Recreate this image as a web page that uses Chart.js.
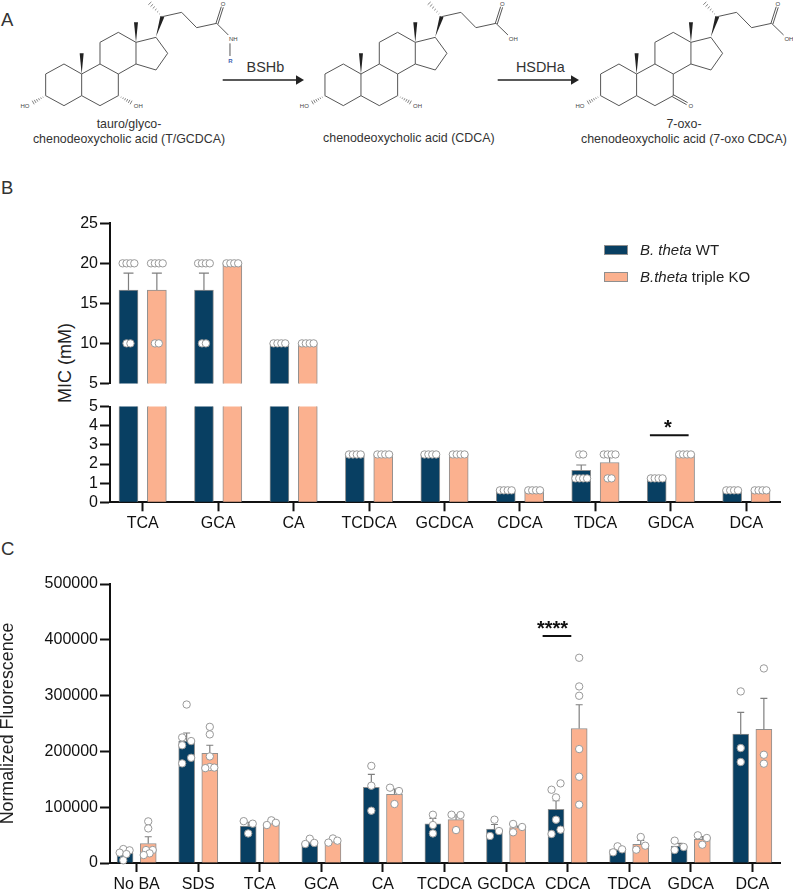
<!DOCTYPE html>
<html>
<head>
<meta charset="utf-8">
<script src="https://cdn.jsdelivr.net/npm/chart.js@4"></script>
<style>
  html, body { margin: 0; padding: 0; background: #fff; }
  #page { position: relative; width: 793px; height: 890px; overflow: hidden; font-family: "Liberation Sans", sans-serif; color: #222; }
  canvas { position: absolute; left: 0; }
  #art { position: absolute; left: 0; top: 0; }
  .panel { position: absolute; left: 1px; font-size: 18.5px; line-height: 1; color: #333; }
  #micTitle { position: absolute; left: 65px; top: 363px; font-size: 18px; white-space: nowrap; transform: translate(-50%, -50%) rotate(-90deg); }
  .legend { position: absolute; left: 604px; font-size: 15px; white-space: nowrap; line-height: 17px; color: #222; }
  .legend i.box { position: absolute; left: 0; top: 4px; width: 22px; height: 8px; border: 1px solid #8f8f8f; box-sizing: content-box; }
  .legend span { margin-left: 36px; }
</style>
</head>
<body>
<div id="page">
  <svg id="art" width="793" height="170" viewBox="0 0 793 170"></svg>
  <div class="panel" style="top:11px">A</div>
  <div class="panel" style="top:179px">B</div>
  <div class="panel" style="top:540px">C</div>
  <div id="micTitle">MIC (mM)</div>
  <canvas id="micUpper" width="793" height="185" style="top:210px"></canvas>
  <canvas id="micLower" width="793" height="140" style="top:395px"></canvas>
  <canvas id="fluor" width="793" height="320" style="top:570px"></canvas>
  <div class="legend" style="top:241px"><i class="box" style="background:#083f62"></i><span><em>B. theta</em> WT</span></div>
  <div class="legend" style="top:268px"><i class="box" style="background:#fbb18f"></i><span><em>B.theta</em> triple KO</span></div>
</div>
<script>
const NAVY = "#083f62";
const SALMON = "#fbb18f";

// ---- panel B, MIC ----
const micCats = ["TCA", "GCA", "CA", "TCDCA", "GCDCA", "CDCA", "TDCA", "GDCA", "DCA"];
const micWt = [16.67, 16.67, 10, 2.5, 2.5, 0.625, 1.67, 1.25, 0.625];
const micKo = [16.67, 20, 10, 2.5, 2.5, 0.625, 2.08, 2.5, 0.625];
const micWtErr = [2.1, 2.1, 0, 0, 0, 0, 0.28, 0, 0];
const micKoErr = [2.1, 0, 0, 0, 0, 0, 0.33, 0, 0];
const micWtReps = [
  [20, 20, 20, 20, 10, 10], [20, 20, 20, 20, 10, 10], [10, 10, 10, 10],
  [2.5, 2.5, 2.5, 2.5], [2.5, 2.5, 2.5, 2.5], [0.625, 0.625, 0.625, 0.625],
  [2.5, 2.5, 1.25, 1.25, 1.25, 1.25], [1.25, 1.25, 1.25, 1.25], [0.625, 0.625, 0.625, 0.625]
];
const micKoReps = [
  [20, 20, 20, 20, 10, 10], [20, 20, 20, 20], [10, 10, 10, 10],
  [2.5, 2.5, 2.5, 2.5], [2.5, 2.5, 2.5, 2.5], [0.625, 0.625, 0.625, 0.625],
  [2.5, 2.5, 2.5, 2.5, 1.25, 1.25], [2.5, 2.5, 2.5, 2.5], [0.625, 0.625, 0.625, 0.625]
];
const micSig = [{ cat: 7, from: -0.278, to: 0.235, labelAt: -0.04, y: 3.5, label: "*" }];

// ---- panel C, fluorescence ----
const fluorCats = ["No BA", "SDS", "TCA", "GCA", "CA", "TCDCA", "GCDCA", "CDCA", "TDCA", "GDCA", "DCA"];
const fluorWt = [18000, 218500, 66000, 36000, 135500, 70000, 61000, 96000, 23900, 30400, 231000];
const fluorKo = [35000, 196500, 71600, 39500, 123000, 77600, 63300, 241000, 33400, 42400, 239400];
const fluorWtErr = [6000, 14500, 7000, 5000, 23500, 10000, 8000, 15600, 6000, 4600, 39000];
const fluorKoErr = [12000, 14500, 6400, 5500, 9500, 8900, 3000, 42600, 7200, 4800, 55600];
const fluorWtReps = [
  [25000, 22700, 18500, 16000, 4800],
  [284000, 225000, 218500, 211000, 188500, 178500],
  [75000, 70500, 53000], [43500, 36000, 34000], [174000, 138500, 93700],
  [86500, 68000, 53000], [77600, 57300, 48400],
  [142700, 131300, 117600, 77600, 59700, 52000],
  [29900, 24500, 19100], [40000, 28700, 23300], [307500, 206000, 181000]
];
const fluorKoReps = [
  [74600, 62000, 23300, 23300, 17300, 14300],
  [244000, 230500, 191000, 172000, 171000, 170000],
  [76500, 72000, 68000], [44000, 40000, 36500], [135000, 129000, 105700],
  [86500, 86000, 59000], [70000, 64500, 55000],
  [367800, 316400, 299700, 204200, 154600, 104500],
  [46600, 31000, 23900], [49600, 44800, 32800], [348700, 194000, 178000]
];
// sideways steps of the replicate dots, in swarm columns, same order as the reps above
const fluorWtSwarm = [
  [-0.4, 1, -1.2, 0.3, -0.4], [0, -1, 1, -1, 1, -1], [-1, 1, 0], [0, 1, -1], [0, 0, 0],
  [0, 0, 0], [0, 1, -1], [1, -1, 0, 0, 1, -1], [0, 1, -1], [-1, 1, -1], [0, 0, 0]
];
const fluorKoSwarm = [
  [0, 0, 1, -0.5, 0.3, -1], [0, 0, 0, 0, 1, -1], [0, 1, -1], [0, 1, -1], [-1, 1, 0],
  [-1, 1, 0], [-1, 1, -1], [0, 0, 0, 0, 0, 0], [0, 1, -1], [-1, 1, 0], [0, 0, 0]
];
const fluorSig = [{ cat: 7, from: -0.406, to: 0.06, labelAt: -0.244, y: 406800, label: "****" }];

const GROUP_OFFSET = 0.188;

function barPoints(values, side, keep) {
  return values
    .map((v, i) => ({ x: i + side * GROUP_OFFSET, y: v }))
    .filter(p => keep(p.y));
}

// identical MIC readings sit side by side
function micDots(reps, side, keep) {
  let out = [];
  reps.forEach((list, i) => {
    let levels = [...new Set(list)];
    levels.forEach(level => {
      let n = list.filter(v => v === level).length;
      for (let j = 0; j < n; j++) {
        let shift = (j - (n - 1) / 2) * 3.9 / 75.46;
        if (keep(level)) out.push({ x: i + side * GROUP_OFFSET + shift, y: level });
      }
    });
  });
  return out;
}

function fluorDots(reps, swarm, side) {
  let out = [];
  reps.forEach((list, i) => {
    list.forEach((v, j) => {
      out.push({ x: i + side * GROUP_OFFSET + swarm[i][j] * 4.5 / 61.56, y: v });
    });
  });
  return out;
}

// error whiskers and significance bars, placed with the chart's own scales
const overlayPlugin = {
  id: "overlay",
  afterDatasetDraw(chart, args, opts) {
    let ds = chart.data.datasets[args.index];
    if (!ds.errors) return;
    let ctx = chart.ctx, xs = chart.scales.x, ys = chart.scales.y;
    ctx.save();
    ctx.strokeStyle = "#7f7f7f";
    ctx.lineWidth = 1.2;
    ds.errors.forEach((err, i) => {
      let mean = ds.means[i];
      if (!err || mean < ys.min || mean + err > ys.max) return;
      let x = xs.getPixelForValue(i + ds.side * GROUP_OFFSET);
      let y0 = ys.getPixelForValue(mean), y1 = ys.getPixelForValue(mean + err);
      ctx.beginPath();
      ctx.moveTo(x, y0);
      ctx.lineTo(x, y1);
      ctx.moveTo(x - opts.cap, y1);
      ctx.lineTo(x + opts.cap, y1);
      ctx.stroke();
    });
    ctx.restore();
  },
  afterDraw(chart, args, opts) {
    if (!opts.sig) return;
    let ctx = chart.ctx, xs = chart.scales.x, ys = chart.scales.y;
    ctx.save();
    opts.sig.forEach(s => {
      let y = ys.getPixelForValue(s.y);
      ctx.strokeStyle = "#111";
      ctx.lineWidth = 2;
      ctx.beginPath();
      ctx.moveTo(xs.getPixelForValue(s.cat + s.from), y);
      ctx.lineTo(xs.getPixelForValue(s.cat + s.to), y);
      ctx.stroke();
      ctx.fillStyle = "#111";
      ctx.font = "bold 20px 'Liberation Sans'";
      ctx.textAlign = "center";
      ctx.fillText(s.label, xs.getPixelForValue(s.cat + s.labelAt), y - 1);
    });
    ctx.restore();
  }
};

function barSet(data, color, thickness, means, errors, side) {
  return {
    type: "bar", data: data, means: means, errors: errors, side: side, order: 2, grouped: false,
    backgroundColor: color, borderColor: "#8f8f8f", borderWidth: 1, barThickness: thickness
  };
}

function dotSet(data) {
  return {
    type: "scatter", data: data, order: 1, clip: false, showLine: false,
    pointRadius: 3.7, pointBackgroundColor: "#fff", pointBorderColor: "#999", pointBorderWidth: 1
  };
}

function drawChart(id, datasets, cats, xMin, xMax, yOpts, padding, xHeight, cap, sig) {
  return new Chart(document.getElementById(id), {
    type: "bar",
    data: { datasets: datasets },
    plugins: [overlayPlugin],
    options: {
      responsive: false,
      animation: false,
      layout: { padding: padding },
      plugins: {
        legend: { display: false },
        tooltip: { enabled: false },
        overlay: { cap: cap, sig: sig }
      },
      scales: {
        x: {
          type: "linear",
          display: xHeight > 0,
          offset: false,
          min: xMin,
          max: xMax,
          afterBuildTicks: scale => { scale.ticks = cats.map((c, i) => ({ value: i })); },
          afterFit: scale => { scale.height = xHeight; },
          ticks: { callback: v => cats[v], autoSkip: false, maxRotation: 0, color: "#111", padding: 3, font: { size: 16 } },
          grid: { offset: false, drawOnChartArea: false, tickLength: 9, tickWidth: 2, tickColor: "#111" },
          border: { color: "#111", width: 2 }
        },
        y: Object.assign({
          afterFit: scale => { scale.width = 110; },
          grid: { drawOnChartArea: false, tickLength: 10, tickWidth: 2, tickColor: "#111" },
          border: { color: "#111", width: 2 }
        }, yOpts)
      }
    }
  });
}

Chart.defaults.font.family = "'Liberation Sans', sans-serif";

const yTicks = (step) => ({ stepSize: step, autoSkip: false, color: "#111", padding: 2, font: { size: 16 }, callback: v => String(v) });

const isHigh = v => v > 5;
const isLow = v => v <= 5;

drawChart("micUpper", [
  barSet(barPoints(micWt, -1, isHigh), NAVY, 19, micWt, micWtErr, -1),
  barSet(barPoints(micKo, 1, isHigh), SALMON, 19, micKo, micKoErr, 1),
  dotSet(micDots(micWtReps, -1, isHigh)),
  dotSet(micDots(micKoReps, 1, isHigh))
], micCats, -0.433, 8.446, { min: 5, max: 25, ticks: yTicks(5) },
  { top: 13.3, bottom: 10.3, right: 13 }, 0, 5, null);

drawChart("micLower", [
  barSet(barPoints(micWt, -1, () => true), NAVY, 19, micWt, micWtErr, -1),
  barSet(barPoints(micKo, 1, () => true), SALMON, 19, micKo, micKoErr, 1),
  dotSet(micDots(micWtReps, -1, isLow)),
  dotSet(micDots(micKoReps, 1, isLow))
], micCats, -0.433, 8.446, { min: 0, max: 5, ticks: yTicks(1) },
  { top: 6.7, right: 13 }, 32.7, 5, micSig);

drawChart("fluor", [
  barSet(barPoints(fluorWt, -1, () => true), NAVY, 16, fluorWt, fluorWtErr, -1),
  barSet(barPoints(fluorKo, 1, () => true), SALMON, 16, fluorKo, fluorKoErr, 1),
  dotSet(fluorDots(fluorWtReps, fluorWtSwarm, -1)),
  dotSet(fluorDots(fluorKoReps, fluorKoSwarm, 1))
], fluorCats, -0.433, 10.45, {
  min: 0, max: 500000, ticks: yTicks(100000),
  title: { display: true, text: "Normalized Fluorescence", color: "#222", font: { size: 17.8 }, padding: { top: -3, bottom: 0 } }
}, { top: 14, right: 13 }, 27, 3.5, fluorSig);

// ---- panel A, the three structures, drawn in 3x units ----
const svgNS = "http://www.w3.org/2000/svg";
const art = document.getElementById("art");

function el(parent, name, attrs, text) {
  let node = document.createElementNS(svgNS, name);
  Object.keys(attrs).forEach(k => node.setAttribute(k, attrs[k]));
  if (text) node.textContent = text;
  parent.appendChild(node);
  return node;
}

const rings = [
  "137,222 192,192 245,222 245,287 192,317 137,287 137,222",
  "245,222 300,192 355,222 355,287 300,317 245,287",
  "300,192 300,127 355,97 408,127 408,192 355,222",
  "408,127 468,112 503,160 468,210 408,192",
  "487,50 545,37 590,83 650,70"
];

function wedge(g, x1, y1, x2, y2) {
  let dx = x2 - x1, dy = y2 - y1, len = Math.hypot(dx, dy);
  let nx = -dy / len * 6, ny = dx / len * 6;
  el(g, "polygon", { points: `${x1},${y1} ${x2 + nx},${y2 + ny} ${x2 - nx},${y2 - ny}`, fill: "#222" });
}

function hash(g, x1, y1, x2, y2) {
  let dx = x2 - x1, dy = y2 - y1, len = Math.hypot(dx, dy);
  for (let t = 0.05; t <= 1; t += 0.14) {
    let cx = x1 + dx * t, cy = y1 + dy * t, w = 7 * t;
    el(g, "line", {
      x1: cx - dy / len * w, y1: cy + dx / len * w, x2: cx + dy / len * w, y2: cy - dx / len * w,
      stroke: "#444", "stroke-width": 2
    });
  }
}

function atom(g, x, y, text, color, weight) {
  el(g, "text", {
    x: x, y: y, "text-anchor": "middle", "font-size": 18, fill: color || "#444",
    "font-weight": weight || "normal", "font-family": "Liberation Sans"
  }, text);
}

function molecule(dx, kind) {
  let g = el(art, "g", { transform: `scale(0.3333) translate(${dx},0)`, fill: "none", stroke: "none" });
  rings.forEach(p => el(g, "polyline", { points: p, fill: "none", stroke: "#555", "stroke-width": 3 }));
  wedge(g, 245, 222, 245, 160);
  wedge(g, 408, 127, 408, 67);
  wedge(g, 468, 110, 487, 50);
  hash(g, 487, 50, 445, 5);
  hash(g, 137, 287, 95, 310);
  atom(g, 75, 324, "HO");
  // carbonyl
  el(g, "line", { x1: 648, y1: 70, x2: 664, y2: 20, stroke: "#555", "stroke-width": 3 });
  el(g, "line", { x1: 654, y1: 72, x2: 670, y2: 22, stroke: "#555", "stroke-width": 3 });
  atom(g, 669, 18, "O");
  if (kind === "amide") {
    el(g, "line", { x1: 650, y1: 70, x2: 685, y2: 105, stroke: "#555", "stroke-width": 3 });
    atom(g, 700, 124, "NH");
    el(g, "line", { x1: 690, y1: 130, x2: 690, y2: 168, stroke: "#555", "stroke-width": 3 });
    atom(g, 691, 188, "R", "#3f5fb0", "bold");
  } else {
    el(g, "line", { x1: 650, y1: 70, x2: 686, y2: 105, stroke: "#555", "stroke-width": 3 });
    atom(g, 702, 124, "OH");
  }
  if (kind === "oxo") {
    el(g, "line", { x1: 355, y1: 284, x2: 398, y2: 308, stroke: "#555", "stroke-width": 3 });
    el(g, "line", { x1: 352, y1: 290, x2: 395, y2: 314, stroke: "#555", "stroke-width": 3 });
    atom(g, 408, 324, "O");
  } else {
    hash(g, 355, 287, 398, 310);
    atom(g, 415, 324, "OH");
  }
}

molecule(0, "amide");
molecule(838, "acid");
molecule(1665, "oxo");

function arrow(x1, x2, label) {
  el(art, "line", { x1: x1, y1: 80, x2: x2 - 7, y2: 80, stroke: "#222", "stroke-width": 1.4 });
  el(art, "polygon", { points: `${x2 - 8},75.3 ${x2},80 ${x2 - 8},84.7`, fill: "#222" });
  el(art, "text", {
    x: (x1 + x2) / 2 + 2, y: 71.5, "text-anchor": "middle", "font-size": 14.4, fill: "#333",
    "font-family": "Liberation Sans"
  }, label);
}
arrow(222.7, 304, "BSHb");
arrow(497.7, 579, "HSDHa");

function caption(x, y, text) {
  el(art, "text", {
    x: x, y: y, "text-anchor": "middle", "font-size": 12.4, fill: "#333",
    "font-family": "Liberation Sans"
  }, text);
}
caption(129, 128, "tauro/glyco-");
caption(129, 143, "chenodeoxycholic acid (T/GCDCA)");
caption(408.8, 142, "chenodeoxycholic acid (CDCA)");
caption(684, 128, "7-oxo-");
caption(684, 143, "chenodeoxycholic acid (7-oxo CDCA)");
</script>
</body>
</html>
